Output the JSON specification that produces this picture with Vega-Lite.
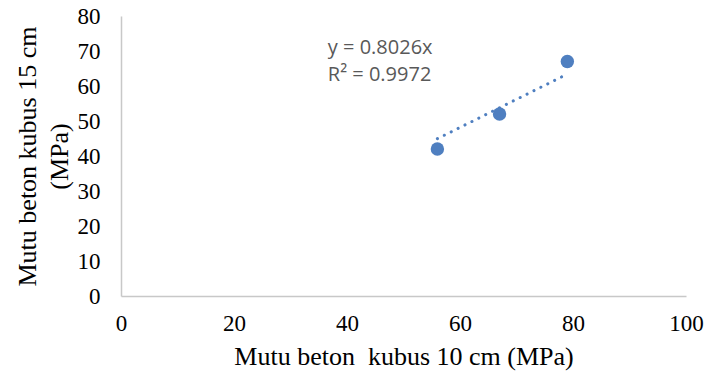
{
  "$schema": "https://vega.github.io/schema/vega-lite/v6.json",
  "width": 565,
  "height": 280,
  "autosize": {"type": "none"},
  "padding": {"left": 121, "top": 16, "right": 24, "bottom": 80},
  "background": "white",
  "config": {
    "view": {"stroke": null},
    "axis": {
      "labelFont": "Liberation Serif", "labelFontSize": 23, "labelColor": "#000000",
      "labelOverlap": false, "labelFlush": false,
      "titleFont": "Liberation Serif", "titleFontSize": 26, "titleFontWeight": "normal", "titleColor": "#000000",
      "ticks": false, "grid": false, "domainColor": "#c8c8c8", "domainWidth": 1.5
    }
  },
  "datasets": {
    "points": [
      {"x": 56, "y": 42},
      {"x": 67, "y": 52},
      {"x": 79, "y": 67}
    ],
    "trend": [
      {"x": 56, "y": 44.95},
      {"x": 79, "y": 63.41}
    ],
    "labels": [
      {"x": 36.6, "y": 70.9, "text": "y = 0.8026x"},
      {"x": 36.6, "y": 63.2, "text": "R² = 0.9972"}
    ]
  },
  "encoding": {
    "x": {
      "field": "x", "type": "quantitative",
      "scale": {"domain": [0, 100], "nice": false},
      "axis": {
        "values": [0, 20, 40, 60, 80, 100],
        "title": "Mutu beton\u00a0 kubus 10 cm (MPa)",
        "titlePadding": 8,
        "labelPadding": 16
      }
    },
    "y": {
      "field": "y", "type": "quantitative",
      "scale": {"domain": [0, 80], "nice": false},
      "axis": {
        "values": [0, 10, 20, 30, 40, 50, 60, 70, 80],
        "title": ["Mutu beton kubus 15 cm", "(MPa)"],
        "titlePadding": 5, "titleLineHeight": 32,
        "labelPadding": 21
      }
    }
  },
  "layer": [
    {
      "data": {"name": "trend"},
      "mark": {"type": "line", "color": "#4F7FC0", "strokeWidth": 3, "strokeDash": [0.1, 7.6], "strokeCap": "round"}
    },
    {
      "data": {"name": "points"},
      "mark": {"type": "circle", "color": "#4F7FC0", "opacity": 1, "size": 180}
    },
    {
      "data": {"name": "labels"},
      "mark": {"type": "text", "align": "left", "baseline": "middle", "font": "Open Sans", "fontSize": 20, "color": "#595959"},
      "encoding": {
        "text": {"field": "text"}
      }
    }
  ]
}
